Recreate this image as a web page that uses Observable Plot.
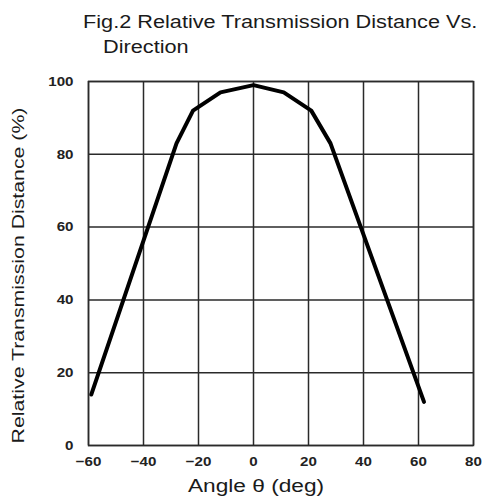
<!DOCTYPE html>
<html>
<head>
<meta charset="utf-8">
<script src="https://cdn.jsdelivr.net/npm/d3@7"></script>
<script src="https://cdn.jsdelivr.net/npm/@observablehq/plot@0.6"></script>
<style>
  html, body { margin: 0; padding: 0; background: #fff; }
  body { width: 483px; height: 503px; overflow: hidden; font-family: "Liberation Sans", Arial, sans-serif; }
  #title { height: 60px; position: relative; color: #1a1a1a; font-size: 17.5px; }
  #title span { position: absolute; white-space: nowrap; transform: scaleX(1.24); transform-origin: 0 0; }
  #title .l1 { left: 83px; top: 12px; }
  #title .l2 { left: 103px; top: 37px; }
  svg { display: block; overflow: visible; }
</style>
</head>
<body>
<div id="title"><span class="l1">Fig.2 Relative Transmission Distance Vs.</span><span class="l2">Direction</span></div>
<div id="chart"></div>
<script>
const angles = [-59, -28, -22, -12, 0, 11, 21, 28, 62];
const distances = [14, 83, 92, 97, 99, 97, 92, 83, 12];
const xTicks = [-60, -40, -20, 0, 20, 40, 60, 80];
const yTicks = [0, 20, 40, 60, 80, 100];
const xLabel = "Angle θ (deg)";
const yLabel = "Relative Transmission Distance (%)";

const data = angles.map((a, i) => ({angle: a, dist: distances[i]}));

const chart = Plot.plot({
  width: 483,
  height: 443,
  marginTop: 21,
  marginBottom: 58,
  marginLeft: 88,
  marginRight: 10,
  style: {fontFamily: "'Liberation Sans', Arial, sans-serif", color: "#1a1a1a", background: "#fff"},
  x: {domain: [-60, 80], ticks: xTicks, label: null},
  y: {domain: [0, 100], ticks: yTicks, label: null},
  marks: [
    Plot.gridX(xTicks, {stroke: "#2a2a2a", strokeOpacity: 1, strokeWidth: 1.5}),
    Plot.gridY(yTicks, {stroke: "#2a2a2a", strokeOpacity: 1, strokeWidth: 1.5}),
    Plot.frame({stroke: "#2a2a2a", strokeWidth: 1.5}),
    Plot.axisX(xTicks, {tickSize: 0, tickPadding: 11, fontSize: 13.5, fontWeight: "bold", fill: "#222", className: "tick-x"}),
    Plot.axisY(yTicks, {tickSize: 0, tickPadding: 15, fontSize: 13.5, fontWeight: "bold", fill: "#222", className: "tick-y"}),
    Plot.line(data, {x: "angle", y: "dist", stroke: "#000", strokeWidth: 4, strokeLinejoin: "round"}),
    Plot.text([xLabel], {frameAnchor: "bottom", dy: 46, fontSize: 18, fill: "#1a1a1a", dx: -25, className: "lab-x"}),
    Plot.text([yLabel], {frameAnchor: "left", textAnchor: "middle", dx: -70, dy: 12, rotate: -90, fontSize: 16, fill: "#1a1a1a", className: "lab-y"})
  ]
});
document.getElementById("chart").appendChild(chart);

// widen glyphs to match the reference's broad typeface
function stretch(selector, factor) {
  chart.querySelectorAll(selector + " text").forEach(t => {
    const len = t.getComputedTextLength();
    t.setAttribute("textLength", len * factor);
    t.setAttribute("lengthAdjust", "spacingAndGlyphs");
  });
}
stretch(".tick-x", 1.12);
stretch(".tick-y", 1.12);
stretch(".lab-x", 1.26);
stretch(".lab-y", 1.33);
</script>
</body>
</html>
